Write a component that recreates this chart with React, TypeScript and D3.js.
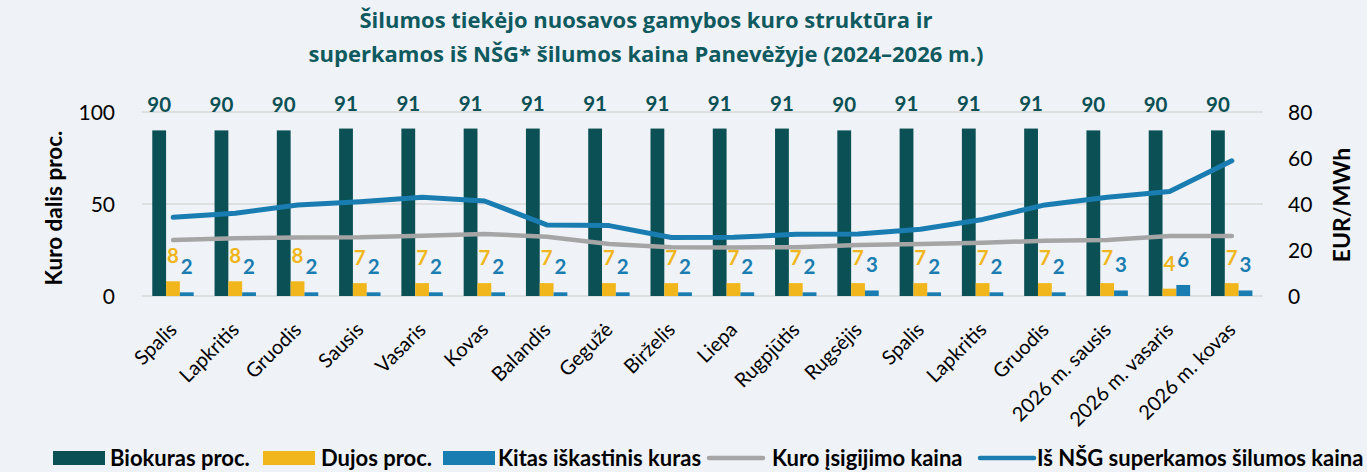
import React from "react";
import * as d3 from "d3";

const categories = [
  "Spalis", "Lapkritis", "Gruodis", "Sausis", "Vasaris", "Kovas", "Balandis", "Gegužė", "Birželis",
  "Liepa", "Rugpjūtis", "Rugsėjis", "Spalis", "Lapkritis", "Gruodis", "2026 m. sausis", "2026 m. vasaris", "2026 m. kovas",
];
const biokuras = [90, 90, 90, 91, 91, 91, 91, 91, 91, 91, 91, 90, 91, 91, 91, 90, 90, 90];
const dujos = [8, 8, 8, 7, 7, 7, 7, 7, 7, 7, 7, 7, 7, 7, 7, 7, 4, 7];
const kitas = [2, 2, 2, 2, 2, 2, 2, 2, 2, 2, 2, 3, 2, 2, 2, 3, 6, 3];
const kuroKaina = [24.3, 25.1, 25.4, 25.5, 26.2, 27, 25.8, 22.6, 21.2, 21.1, 21.2, 22.2, 22.6, 23.2, 24, 24.3, 26.1, 26.1];
const nsgKaina = [34.2, 36, 39.6, 41, 42.9, 41.3, 30.9, 30.6, 25.4, 25.5, 26.8, 27, 29, 33.3, 39.6, 42.9, 45.4, 58.8];
const leftTicks = [0, 50, 100];
const rightTicks = [0, 20, 40, 60, 80];
const barSeries = ["Biokuras proc.", "Dujos proc.", "Kitas iškastinis kuras"];
const lineSeries = ["Kuro įsigijimo kaina", "Iš NŠG superkamos šilumos kaina"];
const titleLines = [
  "Šilumos tiekėjo nuosavos gamybos kuro struktūra ir",
  "superkamos iš NŠG* šilumos kaina Panevėžyje (2024–2026 m.)",
];

const W = 1367, H = 472;
const C_BIO = "#0b5055";
const C_GAS = "#f1b61c";
const C_OTH = "#1a7db2";
const C_GRAY = "#a5a5a5";
const C_TITLE = "#0f5a5f";
const BG = "#eff3f7";
const FONT = "Lato, 'Open Sans', sans-serif";

export default function App() {
  const x = d3.scaleBand<number>().domain(d3.range(categories.length)).range([142, 1263]).padding(0);
  const bw = x.bandwidth();
  const inner = d3.scaleBand<number>().domain([0, 1, 2]).range([bw * 0.165, bw * 0.83]).padding(0);
  const yL = d3.scaleLinear().domain([0, 100]).range([296, 112]);
  const yR = d3.scaleLinear().domain([0, 80]).range([296, 112]);
  const cx = (i: number) => (x(i) as number) + bw / 2;
  const seriesVals = [biokuras, dujos, kitas];
  const seriesCols = [C_BIO, C_GAS, C_OTH];

  const line = d3.line<number>().x((_, i) => cx(i)).y((d) => yR(d));

  const legendSw = [53, 263, 443, 706, 977];
  const legendTx = [110, 321, 498, 772, 1037];
  const legendY = 458;

  return (
    <svg width={W} height={H} style={{ position: "absolute", left: 0, top: 0, background: BG }} fontFamily={FONT}>
      <rect x={0} y={0} width={W} height={H} fill={BG} />
      {titleLines.map((t, i) => (
        <text key={i} x={646} y={28 + i * 34} textAnchor="middle" fontFamily="'Open Sans', sans-serif" fontWeight={700} fontSize={22} fill={C_TITLE}>
          {t}
        </text>
      ))}
      {leftTicks.map((t) => (
        <g key={"gl" + t}>
          <line x1={142} x2={1263} y1={yL(t)} y2={yL(t)} stroke="#d9d9d9" strokeWidth={1.5} />
          <text x={115} y={yL(t)} dy="0.36em" textAnchor="end" fontSize={21} fill="#000">{t}</text>
        </g>
      ))}
      {rightTicks.map((t) => (
        <text key={"gr" + t} x={1288} y={yR(t)} dy="0.36em" textAnchor="start" fontSize={21} fill="#000">{t}</text>
      ))}
      <text transform={`translate(62,208) rotate(-90)`} textAnchor="middle" fontWeight={700} fontSize={22.5} fill="#000">Kuro dalis proc.</text>
      <text transform={`translate(1350,205) rotate(-90)`} textAnchor="middle" fontWeight={700} fontSize={23} fill="#000">EUR/MWh</text>

      {seriesVals.map((vals, s) => (
        <g key={"s" + s}>
          {vals.map((v, i) => (
            <rect key={i} x={(x(i) as number) + (inner(s) as number)} width={inner.bandwidth()} y={yL(v)} height={yL(0) - yL(v)} fill={seriesCols[s]} />
          ))}
        </g>
      ))}

      <path d={line(kuroKaina) || ""} fill="none" stroke={C_GRAY} strokeWidth={4.5} strokeLinecap="round" strokeLinejoin="round" />
      <path d={line(nsgKaina) || ""} fill="none" stroke={C_OTH} strokeWidth={5} strokeLinecap="round" strokeLinejoin="round" />

      {seriesVals.map((vals, s) => (
        <g key={"l" + s}>
          {vals.map((v, i) => (
            <text key={i} x={(x(i) as number) + (inner(s) as number) + inner.bandwidth() / 2} y={yL(v) - 18} textAnchor="middle" fontWeight={700} fontSize={20.5} fill={seriesCols[s]}>
              {v}
            </text>
          ))}
        </g>
      ))}

      {categories.map((c, i) => (
        <text key={"c" + i} transform={`translate(${cx(i) + 5},${331}) rotate(-45)`} textAnchor="end" fontSize={20} fill="#000">{c}</text>
      ))}

      {barSeries.map((s, i) => (
        <g key={"lb" + i}>
          <rect x={legendSw[i]} y={legendY - 7} width={52} height={14} fill={seriesCols[i]} />
          <text x={legendTx[i]} y={legendY} dy="0.35em" fontWeight={700} fontSize={22} fill="#000">{s}</text>
        </g>
      ))}
      {lineSeries.map((s, i) => (
        <g key={"ll" + i}>
          <line x1={legendSw[3 + i] + 3} x2={legendSw[3 + i] + 57} y1={legendY} y2={legendY} stroke={i === 0 ? C_GRAY : C_OTH} strokeWidth={4.5} strokeLinecap="round" />
          <text x={legendTx[3 + i]} y={legendY} dy="0.35em" fontWeight={700} fontSize={22} fill="#000">{s}</text>
        </g>
      ))}
    </svg>
  );
}
